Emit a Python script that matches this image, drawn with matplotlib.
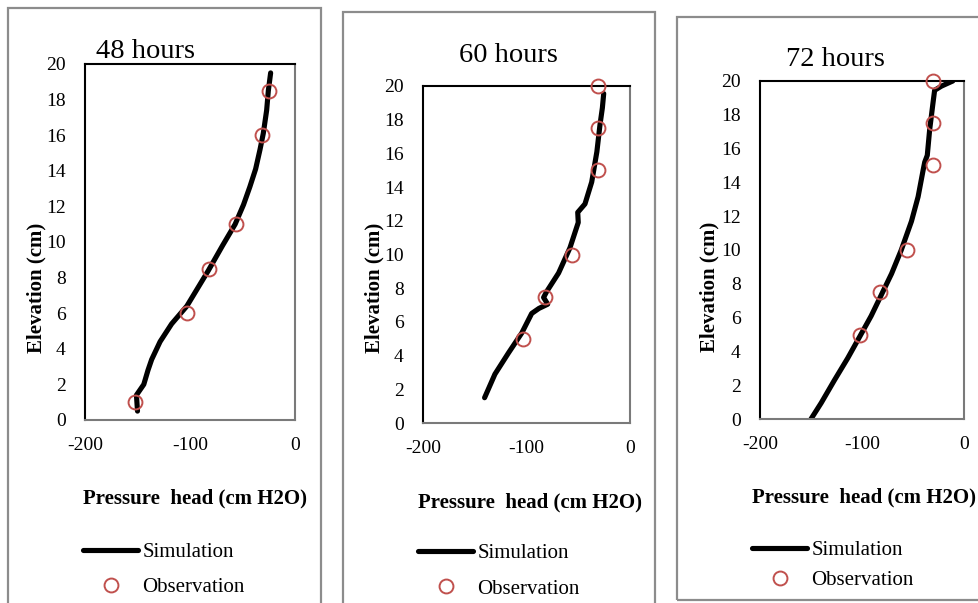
import matplotlib.pyplot as plt
from matplotlib.patches import Rectangle

plt.rcParams['font.family'] = ['Liberation Serif', 'DejaVu Serif']
plt.rcParams['axes.unicode_minus'] = False

W, H = 979, 603

# --- data ---
titles = ["48 hours", "60 hours", "72 hours"]

sim48_x = [-150, -151, -144, -140, -136.5, -128.5, -117.5, -103, -82.5, -69, -57, -49, -43, -37.5, -33.3, -30.2, -27, -25.4, -23.2]
sim48_y = [0.5, 1.4, 2.0, 2.8, 3.4, 4.4, 5.4, 6.4, 8.4, 9.8, 11.0, 12.1, 13.1, 14.1, 15.2, 16.1, 17.4, 18.5, 19.5]
obs48_x = [-25, -31, -56, -82, -102.5, -152]
obs48_y = [18.5, 16, 11, 8.5, 6, 1]

sim60_x = [-140.5, -130.5, -117.5, -104.5, -95, -88, -79.5, -83.5, -80.5, -69, -58, -50, -50.5, -43.5, -37, -32, -29, -26.7, -25.4]
sim60_y = [1.5, 2.9, 4.15, 5.35, 6.5, 6.8, 7.05, 7.45, 7.8, 8.9, 10.4, 11.9, 12.5, 13.0, 14.3, 16.1, 17.7, 18.7, 19.55]
obs60_x = [-31, -31, -31, -56, -82, -103]
obs60_y = [20, 17.5, 15, 10, 7.5, 5]

sim72_x = [-150, -140, -127, -114, -102, -91, -81, -71, -61.5, -51.5, -45, -40, -38.5, -36, -33.7, -30.4, -28.8, -22, -11]
sim72_y = [0, 0.95, 2.3, 3.6, 4.9, 6.1, 7.35, 8.6, 10.0, 11.7, 13.15, 14.75, 15.2, 15.6, 17.1, 18.7, 19.45, 19.7, 20]
obs72_x = [-30, -30, -30, -56, -82, -102]
obs72_y = [20, 17.5, 15, 10, 7.5, 5]

x_ticks = [-200, -100, 0]
y_ticks = list(range(0, 21, 2))

sims = [(sim48_x, sim48_y), (sim60_x, sim60_y), (sim72_x, sim72_y)]
obss = [(obs48_x, obs48_y), (obs60_x, obs60_y), (obs72_x, obs72_y)]

# --- layout, in pixels of the reference ---
axes_px = [(85, 295, 64, 420), (423, 630, 86, 423), (760, 964, 81, 419)]
frames_px = [(8, 321, 8, 640), (343, 655, 12, 640), (677, 1000, 17, 600)]
title_px = [(146, 51), (508, 55), (835, 60)]
ylab_px = [(36, 288), (374, 288), (709, 287)]
xlab_px = [(83, 498), (418, 502), (752, 497)]
leg_px = [(83, 570, 0.73), (418, 571, 0.78), (752, 565.5, 0.5)]

red = '#C0504D'

fig = plt.figure(figsize=(W / 100, H / 100), dpi=100)


def fx(px):
    return px / W


def fy(py):
    return 1 - py / H


for i in range(3):
    # grey frame round each chart
    fl, fr, ft, fb = frames_px[i]
    fig.add_artist(Rectangle((fx(fl), fy(fb)), fx(fr - fl), (fb - ft) / H,
                             transform=fig.transFigure, fill=False,
                             edgecolor='#8c8c8c', linewidth=1.6))

    l, r, t, b = axes_px[i]
    ax = fig.add_axes([fx(l), fy(b), fx(r - l), (b - t) / H])
    sx, sy = sims[i]
    ox, oy = obss[i]
    ax.plot(sx, sy, color='black', linewidth=3.7, solid_capstyle='round',
            solid_joinstyle='round', label='Simulation')
    ax.plot(ox, oy, linestyle='none', marker='o', markersize=10,
            markerfacecolor='none', markeredgecolor=red, markeredgewidth=1.4,
            clip_on=False, label='Observation', zorder=5)

    ax.set_xlim(-200, 0)
    ax.set_ylim(0, 20)
    ax.set_xticks(x_ticks)
    ax.set_yticks(y_ticks)
    ax.tick_params(length=0, labelsize=14)
    ax.tick_params(axis='y', pad=14)
    ax.tick_params(axis='x', pad=12)
    for s in ['top', 'left']:
        ax.spines[s].set_color('black')
        ax.spines[s].set_linewidth(1.5)
    for s in ['right', 'bottom']:
        ax.spines[s].set_color('#7a7a7a')
        ax.spines[s].set_linewidth(1.5)

    tx, ty = title_px[i]
    fig.text(fx(tx), fy(ty), titles[i], fontsize=20.5, ha='center', va='center')
    yx, yy = ylab_px[i]
    fig.text(fx(yx), fy(yy), 'Elevation (cm)', fontsize=15, fontweight='bold',
             rotation=90, ha='center', va='center')
    xx, xy = xlab_px[i]
    fig.text(fx(xx), fy(xy), 'Pressure  head (cm H2O)', fontsize=15,
             fontweight='bold', ha='left', va='center')

    lx, ly, sp = leg_px[i]
    ax.legend(loc='center left', bbox_to_anchor=(fx(lx), fy(ly)),
              bbox_transform=fig.transFigure, frameon=False, fontsize=15,
              handlelength=2.65, handletextpad=0.2, labelspacing=sp,
              borderpad=0, borderaxespad=0, numpoints=1)

fig.savefig('out.png', dpi=100)
